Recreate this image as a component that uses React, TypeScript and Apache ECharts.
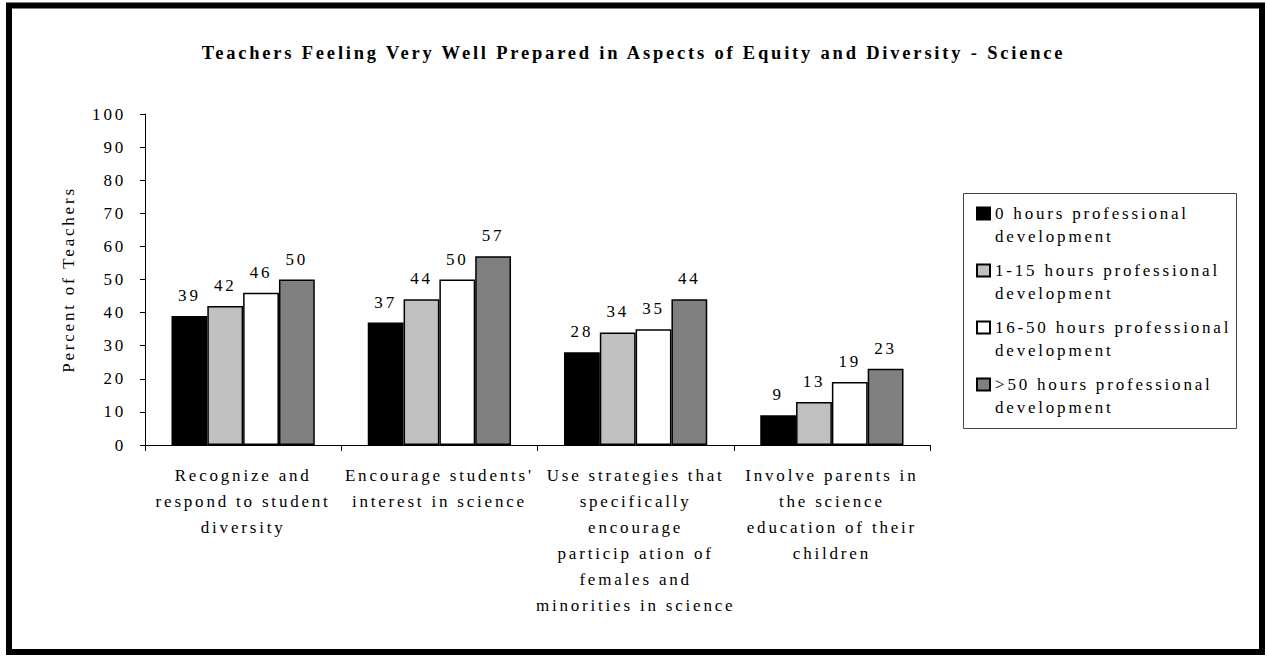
import React, { useEffect, useRef } from 'react';
import * as echarts from 'echarts';

// Survey items shown along the category axis
const categories = [
  'Recognize and\nrespond to student\ndiversity',
  "Encourage students'\ninterest in science",
  'Use strategies that\nspecifically\nencourage\nparticip ation of\nfemales and\nminorities in science',
  'Involve parents in\nthe science\neducation of their\nchildren',
];

// Groups of teachers by hours of professional development
const seriesNames = [
  '0 hours professional development',
  '1-15 hours professional development',
  '16-50 hours professional development',
  '>50 hours professional development',
];

// Percent of teachers feeling very well prepared
const hours0 = [39, 37, 28, 9];
const hours1to15 = [42, 44, 34, 13];
const hours16to50 = [46, 50, 35, 19];
const hoursOver50 = [50, 57, 44, 23];

const seriesValues = [hours0, hours1to15, hours16to50, hoursOver50];
const seriesColors = ['#000000', '#c0c0c0', '#ffffff', '#808080'];

const yMin = 0;
const yMax = 100;
const yStep = 10;

const FONT = 'Liberation Serif';

export default function App() {
  const ref = useRef<HTMLDivElement>(null);

  useEffect(() => {
    if (!ref.current) return;
    const chart = echarts.init(ref.current, undefined, { renderer: 'svg' });

    const series = seriesNames.map((name, i) => ({
      name,
      type: 'bar',
      data: seriesValues[i],
      barGap: '0%',
      barCategoryGap: '27%',
      itemStyle: { color: seriesColors[i], borderColor: '#000', borderWidth: 1.5 },
      label: {
        show: true,
        position: 'top',
        distance: 12,
        color: '#000',
        fontSize: 17,
        fontFamily: FONT,
      },
    }));

    chart.setOption({
      animation: false,
      backgroundColor: '#ffffff',
      textStyle: { fontFamily: FONT, color: '#000' },
      title: {
        text: 'Teachers Feeling Very Well Prepared in Aspects of Equity and Diversity - Science',
        left: 'center',
        top: 43,
        padding: 0,
        textStyle: { fontSize: 18.5, fontWeight: 'bold', fontFamily: FONT, color: '#000' },
      },
      legend: {
        orient: 'vertical',
        left: 976,
        top: 179,
        padding: 0,
        itemGap: -12,
        itemWidth: 13,
        itemHeight: 12,
        icon: 'rect',
        selectedMode: false,
        data: seriesNames,
        // an empty first line keeps the icon level with the first text line
        formatter: (name: string) => '\n' + name.replace(' development', '\ndevelopment'),
        textStyle: {
          fontSize: 17,
          lineHeight: 23,
          fontFamily: FONT,
          color: '#000',
        },
      },
      grid: { left: 145, right: 337, top: 114, bottom: 211, containLabel: false },
      xAxis: {
        type: 'category',
        data: categories,
        axisLine: { lineStyle: { color: '#000', width: 1 } },
        axisTick: { show: true, length: 6, lineStyle: { color: '#000' } },
        axisLabel: {
          interval: 0,
          margin: 17,
          fontSize: 17,
          lineHeight: 26,
          color: '#000',
          fontFamily: FONT,
          align: 'center',
        },
      },
      yAxis: {
        type: 'value',
        min: yMin,
        max: yMax,
        interval: yStep,
        name: 'Percent of Teachers',
        nameLocation: 'middle',
        nameGap: 68,
        nameRotate: 90,
        nameTextStyle: { fontSize: 17, fontFamily: FONT, color: '#000' },
        axisLine: { show: true, lineStyle: { color: '#000', width: 1 } },
        axisTick: { show: true, length: 5, lineStyle: { color: '#000' } },
        axisLabel: { margin: 19, fontSize: 17, color: '#000', fontFamily: FONT },
        splitLine: { show: false },
      },
      graphic: [
        {
          type: 'rect',
          silent: true,
          shape: { x: 9, y: 5.5, width: 1253, height: 646.5 },
          style: { fill: 'none', stroke: '#000', lineWidth: 6 },
        },
        {
          type: 'rect',
          silent: true,
          shape: { x: 963.5, y: 193.5, width: 273, height: 235 },
          style: { fill: 'none', stroke: '#444', lineWidth: 1 },
        },
      ],
      series,
    });

    return () => chart.dispose();
  }, []);

  return (
    <div
      ref={ref}
      style={{
        position: 'absolute',
        left: 0,
        top: 0,
        width: 1267,
        height: 656,
        background: '#fff',
        letterSpacing: '2.8px',
      }}
    />
  );
}
